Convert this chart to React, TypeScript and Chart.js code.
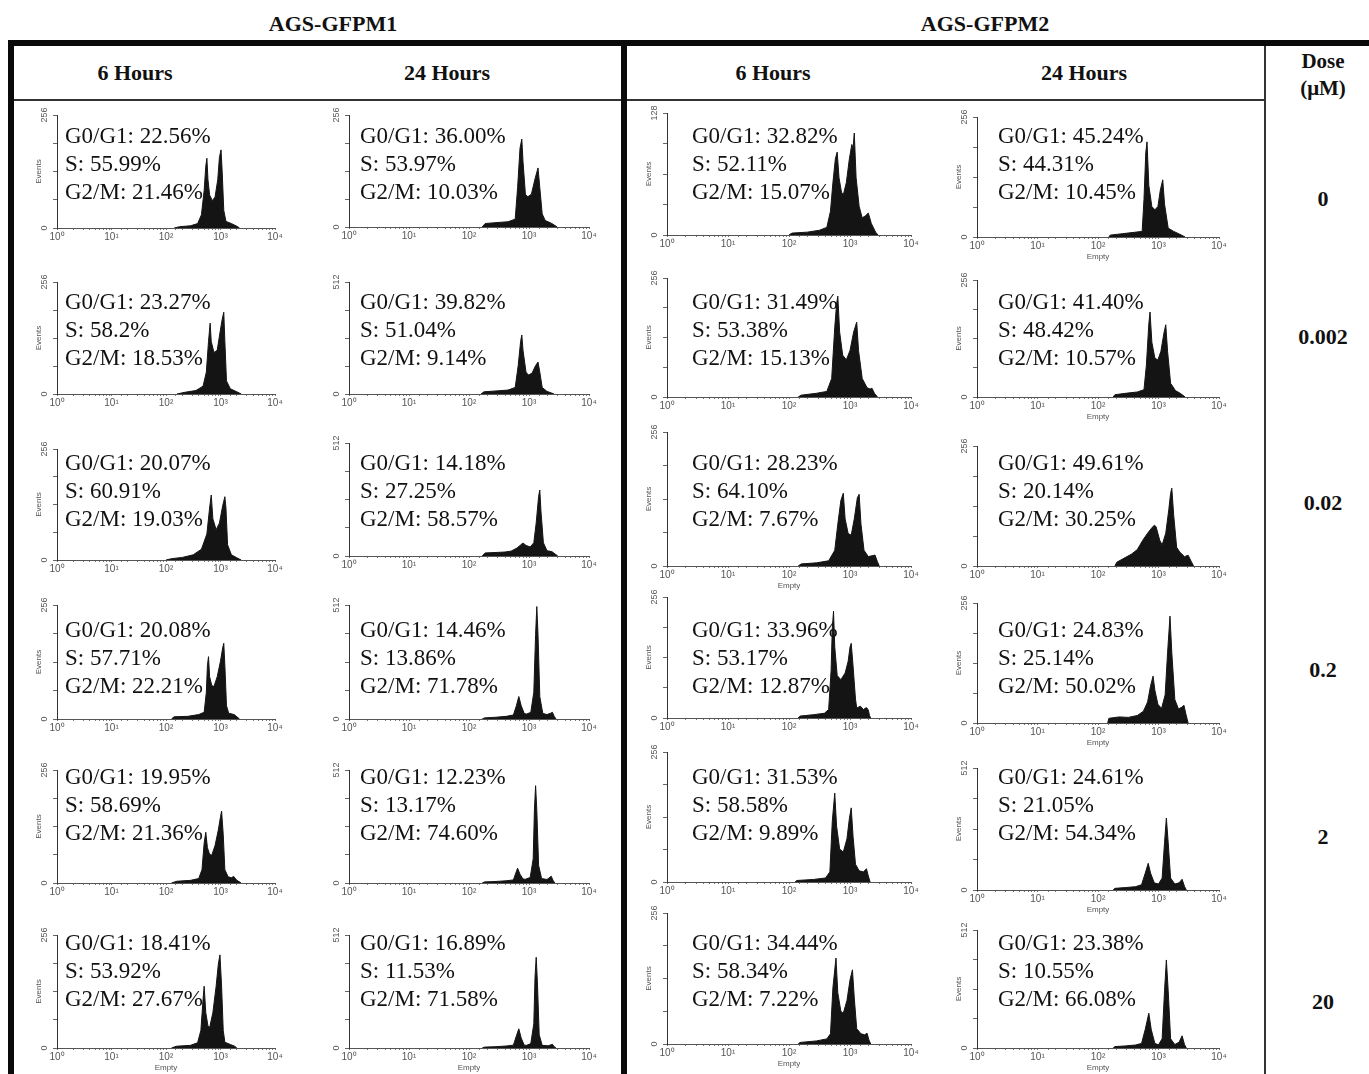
import React, { useEffect, useRef } from 'react';
import { Chart, registerables } from 'chart.js';

Chart.register(...registerables);

// ---------------- DATA ----------------
const cellLines = ['AGS-GFPM1', 'AGS-GFPM2'];
const timePoints = ['6 Hours', '24 Hours'];
const doses = ['0', '0.002', '0.02', '0.2', '2', '20'];
const doseHeader = ['Dose', '(μM)'];
const xTickLabels = ['10⁰', '10¹', '10²', '10³', '10⁴'];
const yTitle = 'Events';
const xTitle = 'Empty';

// [row = dose][col = GFPM1 6h, GFPM1 24h, GFPM2 6h, GFPM2 24h]
const g1Pct = [
  ['22.56', '36.00', '32.82', '45.24'],
  ['23.27', '39.82', '31.49', '41.40'],
  ['20.07', '14.18', '28.23', '49.61'],
  ['20.08', '14.46', '33.96', '24.83'],
  ['19.95', '12.23', '31.53', '24.61'],
  ['18.41', '16.89', '34.44', '23.38'],
];
const sPct = [
  ['55.99', '53.97', '52.11', '44.31'],
  ['58.2', '51.04', '53.38', '48.42'],
  ['60.91', '27.25', '64.10', '20.14'],
  ['57.71', '13.86', '53.17', '25.14'],
  ['58.69', '13.17', '58.58', '21.05'],
  ['53.92', '11.53', '58.34', '10.55'],
];
const g2Pct = [
  ['21.46', '10.03', '15.07', '10.45'],
  ['18.53', '9.14', '15.13', '10.57'],
  ['19.03', '58.57', '7.67', '30.25'],
  ['22.21', '71.78', '12.87', '50.02'],
  ['21.36', '74.60', '9.89', '54.34'],
  ['27.67', '71.58', '7.22', '66.08'],
];
const yMax = [
  [256, 256, 128, 256],
  [256, 512, 256, 256],
  [256, 512, 256, 256],
  [256, 512, 256, 256],
  [256, 512, 256, 512],
  [256, 512, 256, 512],
];
const showEvents = [
  [true, false, true, true],
  [true, false, true, true],
  [true, false, true, false],
  [true, false, true, true],
  [true, false, true, true],
  [true, false, true, true],
];
const showEmpty = [
  [false, false, false, true],
  [false, false, false, true],
  [false, false, true, false],
  [false, false, false, true],
  [false, false, false, true],
  [true, true, true, true],
];

// histogram outlines: [log10(channel), events]
const h00 = [[2.15,0],[2.25,3],[2.45,5],[2.58,10],[2.65,30],[2.7,85],[2.73,140],[2.75,158],[2.77,110],[2.8,75],[2.85,62],[2.9,70],[2.95,110],[2.98,160],[3.01,177],[3.03,130],[3.06,40],[3.1,15],[3.2,10],[3.3,4],[3.35,0]];
const h10 = [[2.2,0],[2.35,4],[2.55,8],[2.68,18],[2.74,50],[2.78,120],[2.81,162],[2.83,120],[2.88,95],[2.94,100],[2.99,140],[3.03,170],[3.06,187],[3.08,120],[3.11,30],[3.18,12],[3.3,5],[3.38,0]];
const h20 = [[2.0,0],[2.1,3],[2.3,6],[2.5,12],[2.65,25],[2.75,60],[2.8,120],[2.83,150],[2.86,95],[2.92,70],[2.98,85],[3.04,125],[3.08,146],[3.1,120],[3.13,35],[3.2,12],[3.3,5],[3.38,0]];
const h30 = [[2.1,0],[2.15,5],[2.4,6],[2.6,10],[2.7,15],[2.74,60],[2.76,120],[2.78,140],[2.8,95],[2.84,75],[2.88,73],[2.94,95],[3.0,130],[3.04,160],[3.06,170],[3.08,120],[3.11,30],[3.15,13],[3.25,10],[3.35,0]];
const h40 = [[2.1,0],[2.2,4],[2.45,6],[2.6,10],[2.66,30],[2.7,90],[2.73,115],[2.76,80],[2.8,65],[2.84,63],[2.9,85],[2.96,120],[3.0,150],[3.02,163],[3.05,110],[3.08,30],[3.14,14],[3.2,12],[3.24,15],[3.3,6],[3.38,0]];
const h50 = [[2.1,0],[2.19,4],[2.45,6],[2.58,12],[2.64,40],[2.68,110],[2.7,140],[2.73,80],[2.77,50],[2.8,46],[2.86,80],[2.92,140],[2.96,190],[2.99,211],[3.02,140],[3.05,40],[3.08,13],[3.18,8],[3.26,4],[3.3,0]];

const h01 = [[2.22,0],[2.27,8],[2.45,10],[2.65,12],[2.77,18],[2.81,90],[2.85,180],[2.88,201],[2.9,150],[2.94,75],[2.98,69],[3.04,75],[3.1,110],[3.15,135],[3.18,90],[3.22,30],[3.27,15],[3.38,8],[3.47,0]];
const h11 = [[2.2,0],[2.25,10],[2.45,14],[2.65,18],[2.77,30],[2.82,130],[2.86,240],[2.88,270],[2.9,200],[2.95,100],[2.99,87],[3.05,95],[3.11,130],[3.15,146],[3.18,100],[3.22,30],[3.3,12],[3.42,0]];
const h21 = [[2.22,0],[2.27,14],[2.45,16],[2.6,18],[2.7,22],[2.8,36],[2.86,50],[2.9,59],[2.95,48],[3.02,41],[3.08,60],[3.12,150],[3.16,270],[3.18,299],[3.2,200],[3.24,60],[3.3,24],[3.38,20],[3.44,8],[3.48,0]];
const h31 = [[2.22,0],[2.26,5],[2.45,8],[2.62,12],[2.74,18],[2.79,60],[2.83,101],[2.87,60],[2.92,25],[2.96,22],[3.03,30],[3.08,120],[3.11,380],[3.13,505],[3.15,380],[3.18,100],[3.23,25],[3.3,20],[3.36,26],[3.39,30],[3.42,12],[3.45,0]];
const h41 = [[2.22,0],[2.26,5],[2.45,7],[2.62,10],[2.74,14],[2.78,45],[2.81,67],[2.85,40],[2.9,18],[2.94,17],[3.02,25],[3.07,110],[3.09,330],[3.11,441],[3.13,330],[3.16,80],[3.21,20],[3.3,16],[3.35,26],[3.37,31],[3.4,12],[3.43,0]];
const h51 = [[2.22,0],[2.26,4],[2.45,6],[2.62,9],[2.74,13],[2.79,55],[2.83,87],[2.87,45],[2.92,13],[2.96,12],[3.03,20],[3.08,110],[3.1,320],[3.12,411],[3.14,300],[3.17,60],[3.22,12],[3.32,10],[3.37,15],[3.39,17],[3.42,6],[3.45,0]];

const h02 = [[2.0,0],[2.05,2],[2.3,3],[2.5,5],[2.62,8],[2.68,25],[2.72,55],[2.76,80],[2.79,87],[2.82,60],[2.86,45],[2.89,42],[2.94,55],[2.99,80],[3.03,95],[3.05,90],[3.07,107],[3.1,60],[3.15,30],[3.2,18],[3.25,20],[3.3,23],[3.35,12],[3.42,3],[3.46,0]];
const h12 = [[2.15,0],[2.2,4],[2.45,8],[2.62,12],[2.7,40],[2.75,150],[2.78,200],[2.8,217],[2.83,140],[2.88,90],[2.94,80],[3.0,100],[3.06,140],[3.11,161],[3.14,100],[3.2,40],[3.28,20],[3.33,17],[3.36,19],[3.4,8],[3.45,0]];
const h22 = [[2.15,0],[2.2,4],[2.45,6],[2.65,10],[2.75,30],[2.8,80],[2.85,125],[2.89,139],[2.92,90],[2.97,62],[3.02,59],[3.07,90],[3.12,130],[3.15,137],[3.18,80],[3.23,30],[3.3,18],[3.38,20],[3.41,21],[3.45,8],[3.48,0]];
const h32 = [[2.15,0],[2.18,4],[2.4,7],[2.58,10],[2.65,18],[2.69,100],[2.71,190],[2.73,226],[2.75,150],[2.79,90],[2.85,81],[2.92,95],[2.97,120],[3.0,150],[3.02,158],[3.05,110],[3.09,40],[3.11,21],[3.17,25],[3.22,18],[3.27,22],[3.3,17],[3.32,5],[3.34,0]];
const h42 = [[2.1,0],[2.13,3],[2.4,5],[2.6,8],[2.67,20],[2.71,120],[2.75,175],[2.78,110],[2.83,65],[2.89,59],[2.95,85],[2.99,125],[3.02,146],[3.05,90],[3.09,35],[3.15,22],[3.22,20],[3.27,26],[3.3,12],[3.33,0]];
const h52 = [[2.15,0],[2.18,3],[2.45,6],[2.62,10],[2.68,20],[2.72,110],[2.77,168],[2.8,100],[2.85,64],[2.89,60],[2.95,85],[3.0,125],[3.04,145],[3.07,90],[3.11,30],[3.18,20],[3.24,18],[3.28,21],[3.31,8],[3.34,0]];

const h03 = [[2.18,0],[2.2,4],[2.4,7],[2.6,10],[2.73,12],[2.76,80],[2.79,180],[2.81,203],[2.84,110],[2.89,65],[2.94,58],[2.99,65],[3.03,100],[3.07,122],[3.1,70],[3.16,19],[3.25,12],[3.35,6],[3.44,0]];
const h13 = [[2.25,0],[2.28,5],[2.45,8],[2.65,11],[2.76,16],[2.8,70],[2.84,160],[2.86,186],[2.89,120],[2.94,85],[2.99,81],[3.04,100],[3.09,140],[3.12,158],[3.15,100],[3.2,30],[3.28,14],[3.36,8],[3.44,0]];
const h23 = [[2.28,0],[2.31,8],[2.45,18],[2.55,25],[2.65,35],[2.74,55],[2.82,70],[2.88,80],[2.93,87],[2.96,84],[3.02,55],[3.06,45],[3.12,70],[3.17,120],[3.2,155],[3.22,166],[3.25,110],[3.3,40],[3.35,30],[3.43,20],[3.49,23],[3.54,10],[3.58,0]];
const h33 = [[2.16,0],[2.18,10],[2.35,13],[2.5,12],[2.65,16],[2.75,25],[2.82,45],[2.87,80],[2.91,100],[2.94,70],[2.99,40],[3.05,31],[3.11,60],[3.15,150],[3.19,228],[3.22,150],[3.27,50],[3.33,30],[3.39,34],[3.42,38],[3.46,15],[3.49,0]];
const h43 = [[2.25,0],[2.28,7],[2.45,10],[2.62,14],[2.72,22],[2.78,70],[2.83,112],[2.87,70],[2.93,30],[3.0,25],[3.06,50],[3.1,200],[3.13,302],[3.16,200],[3.2,50],[3.27,25],[3.34,30],[3.39,45],[3.43,15],[3.46,0]];
const h53 = [[2.25,0],[2.28,6],[2.45,9],[2.62,13],[2.72,20],[2.78,80],[2.84,151],[2.88,80],[2.94,20],[3.0,14],[3.06,40],[3.1,250],[3.13,382],[3.16,250],[3.2,40],[3.27,15],[3.34,25],[3.39,53],[3.43,15],[3.46,0]];

const histograms = [
  [h00, h01, h02, h03],
  [h10, h11, h12, h13],
  [h20, h21, h22, h23],
  [h30, h31, h32, h33],
  [h40, h41, h42, h43],
  [h50, h51, h52, h53],
];

// ---------------- LAYOUT ----------------
const plotLeft = [57, 349, 667, 977];
const plotRight = [275, 589, 911, 1219];
const plotTop = [
  [115, 115, 113, 117],
  [282, 282, 278, 280],
  [449, 443, 432, 446],
  [605, 605, 597, 603],
  [770, 770, 752, 768],
  [935, 935, 913, 930],
];
const plotBottom = [
  [228, 227, 235, 237],
  [394, 394, 397, 397],
  [560, 556, 566, 566],
  [719, 719, 718, 723],
  [883, 883, 882, 890],
  [1048, 1048, 1044, 1048],
];
const textLeft = [65, 360, 692, 998];
const textRowY = [135, 301, 462, 629, 776, 942];
const doseY = [199, 337, 503, 670, 837, 1002];
const headerX = [135, 447, 773, 1084];
const lineHeaderX = [333, 985];

const YW = 24;
const PAD_T = 9;
const PAD_R = 14;
const HIST = '#141414';
const SERIF = '"Liberation Serif", "Times New Roman", Times, serif';
const SANS = '"Liberation Sans", Arial, sans-serif';

function HistCell({ row, col }: { row: number; col: number }) {
  const ref = useRef<HTMLCanvasElement>(null);
  const withEmpty = showEmpty[row][col];
  const XH = withEmpty ? 25 : 16;
  const pw = plotRight[col] - plotLeft[col];
  const ph = plotBottom[row][col] - plotTop[row][col];
  const W = pw + YW + PAD_R;
  const H = ph + PAD_T + XH;

  useEffect(() => {
    if (!ref.current) return;
    const ymax = yMax[row][col];
    const chart = new Chart(ref.current, {
      type: 'line',
      data: {
        datasets: [
          {
            data: histograms[row][col].map(([lx, y]) => ({ x: Math.pow(10, lx), y })),
            fill: 'origin',
            backgroundColor: HIST,
            borderColor: HIST,
            borderWidth: 1,
            pointRadius: 0,
            tension: 0,
          },
        ],
      },
      options: {
        animation: false,
        responsive: false,
        events: [],
        layout: { padding: { top: PAD_T, right: PAD_R, left: 0, bottom: 0 } },
        plugins: { legend: { display: false }, tooltip: { enabled: false } },
        scales: {
          x: {
            type: 'logarithmic',
            min: 1,
            max: 10000,
            afterFit: (s: any) => {
              s.height = XH;
            },
            border: { display: true, color: '#555', width: 1 },
            grid: { drawOnChartArea: false, drawTicks: true, tickLength: 2, tickColor: '#777' },
            ticks: {
              autoSkip: false,
              maxRotation: 0,
              minRotation: 0,
              padding: 1,
              color: '#555',
              font: { family: SANS, size: 10 },
              callback: (v: any) => {
                const l = Math.log10(Number(v));
                const r = Math.round(l);
                return Math.abs(l - r) < 1e-6 ? xTickLabels[r] : '';
              },
            },
            title: {
              display: withEmpty,
              text: xTitle,
              color: '#555',
              font: { family: SANS, size: 8 },
              padding: { top: 0, bottom: 0 },
            },
          },
          y: {
            type: 'linear',
            min: 0,
            max: ymax,
            afterFit: (s: any) => {
              s.width = YW;
            },
            border: { display: true, color: '#333', width: 1 },
            grid: { drawOnChartArea: false, drawTicks: true, tickLength: 4, tickColor: '#666' },
            ticks: {
              stepSize: ymax / 4,
              minRotation: 90,
              maxRotation: 90,
              crossAlign: 'center',
              padding: 1,
              color: '#555',
              font: { family: SANS, size: 9 },
              callback: (v: any) => (Number(v) === 0 || Number(v) === ymax ? String(v) : ''),
            },
            title: {
              display: showEvents[row][col],
              text: yTitle,
              color: '#555',
              font: { family: SANS, size: 8 },
              padding: { top: 1, bottom: 0 },
            },
          },
        },
      } as any,
    });
    return () => chart.destroy();
  }, [row, col]);

  return (
    <canvas
      ref={ref}
      width={W}
      height={H}
      style={{
        position: 'absolute',
        left: plotLeft[col] - YW,
        top: plotTop[row][col] - PAD_T,
        width: W,
        height: H,
      }}
    />
  );
}

function Txt({ x, y, text, size, bold, align }: { x: number; y: number; text: string; size: number; bold?: boolean; align?: 'left' | 'center' }) {
  return (
    <div
      style={{
        position: 'absolute',
        left: x,
        top: y,
        transform: align === 'left' ? 'translate(0,-50%)' : 'translate(-50%,-50%)',
        fontFamily: SERIF,
        fontSize: size,
        fontWeight: bold ? 700 : 400,
        lineHeight: 1,
        whiteSpace: 'nowrap',
        color: '#111',
      }}
    >
      {text}
    </div>
  );
}

function Rect({ x, y, w, h, c }: { x: number; y: number; w: number; h: number; c: string }) {
  return <div style={{ position: 'absolute', left: x, top: y, width: w, height: h, background: c }} />;
}

export default function App() {
  const cells: React.ReactNode[] = [];
  for (let r = 0; r < 6; r++) {
    for (let c = 0; c < 4; c++) {
      cells.push(<HistCell key={`h${r}${c}`} row={r} col={c} />);
      const lines = [`G0/G1: ${g1Pct[r][c]}%`, `S: ${sPct[r][c]}%`, `G2/M: ${g2Pct[r][c]}%`];
      lines.forEach((t, i) => {
        cells.push(<Txt key={`t${r}${c}${i}`} x={textLeft[c]} y={textRowY[r] + i * 28} text={t} size={23} align="left" />);
      });
    }
  }
  return (
    <div
      style={{
        position: 'absolute',
        left: 0,
        top: 0,
        width: 1369,
        height: 1074,
        overflow: 'hidden',
        background: '#fff',
      }}
    >
      <Rect x={8} y={40} w={1361} h={6} c="#0a0a0a" />
      <Rect x={8} y={40} w={6} h={1034} c="#0a0a0a" />
      <Rect x={621} y={40} w={6} h={1034} c="#0a0a0a" />
      <Rect x={1264} y={46} w={2} h={1028} c="#333" />
      <Rect x={14} y={99} w={607} h={2} c="#333" />
      <Rect x={627} y={99} w={637} h={2} c="#333" />

      {cellLines.map((t, i) => (
        <Txt key={`cl${i}`} x={lineHeaderX[i]} y={24} text={t} size={22} bold />
      ))}
      {headerX.map((x, i) => (
        <Txt key={`th${i}`} x={x} y={73} text={timePoints[i % 2]} size={22} bold />
      ))}
      <Txt x={1323} y={61} text={doseHeader[0]} size={21} bold />
      <Txt x={1323} y={88} text={doseHeader[1]} size={21} bold />
      {doses.map((d, i) => (
        <Txt key={`d${i}`} x={1323} y={doseY[i]} text={d} size={22} bold />
      ))}
      {cells}
    </div>
  );
}
